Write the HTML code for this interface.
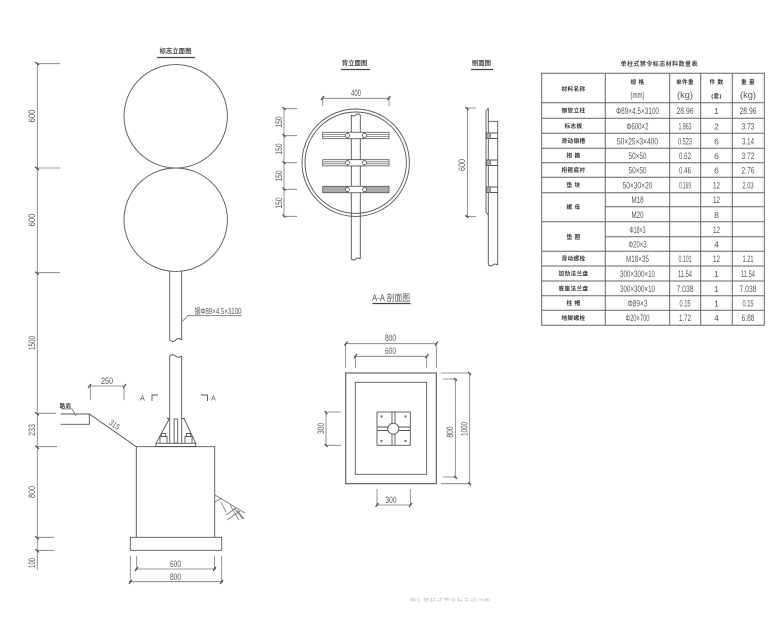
<!DOCTYPE html>
<html>
<head>
<meta charset="utf-8">
<style>
html,body{margin:0;padding:0;background:#fff;}
svg{display:block;}
.l{fill:none;stroke:#555;stroke-width:.9;}
.d{fill:none;stroke:#777;stroke-width:.8;}
.h{fill:none;stroke:#444;stroke-width:1.1;}
text{font-family:"Liberation Sans","Noto Sans CJK SC",sans-serif;fill:#555;text-anchor:middle;}
.n{font-size:9.500px;}
.s{font-size:8.500px;}
.z{font-size:5.600px;font-weight:bold;fill:#333;letter-spacing:.4px;}
.ti{font-size:6.400px;font-weight:bold;fill:#444;}
.u{fill:none;stroke:#444;stroke-width:1.300;}
</style>
</head>
<body>
<svg width="780" height="624" viewBox="0 0 780 624" xmlns="http://www.w3.org/2000/svg">
<rect width="780" height="624" fill="#fff"/>

<!-- 标志立面图 -->
<text class="ti" x="175.500" y="53">标志立面图</text>
<path class="u" d="M157 57.500H195"/>
<circle class="l" cx="175.700" cy="116.300" r="51.700"/>
<circle class="l" cx="175.700" cy="219.700" r="51.700"/>
<path class="l" d="M169.700 271.500V340M181.700 271.500V340M169.700 340q3 3 6 0t6 0"/>
<path class="l" d="M169.700 356q3 -2.500 6 0t6 0M169.700 356V443.300M181.700 356V443.300"/>
<path class="d" d="M181.700 322L188 315.700H242"/>
<text x="218" y="314" style="font-size:8px" textLength="47" lengthAdjust="spacingAndGlyphs">钢Φ89×4.5×3100</text>

<!-- left dims -->
<path class="d" d="M37.300 63V570M37 63.700H60M37 168H60M37 272.700H60M36 413.300H56M36 446.700H57M36 537.300H54M36 550.300H54"/>
<path class="h" d="M35 62l4 3M35 167l4 3M35 271.700l4 3M35 412.300l4 3M35 445.700l4 3M35 536.300l4 3M35 549.300l4 3"/>
<text class="n" transform="translate(35,116) rotate(-90)" textLength="13" lengthAdjust="spacingAndGlyphs">600</text>
<text class="n" transform="translate(35,220) rotate(-90)" textLength="13" lengthAdjust="spacingAndGlyphs">600</text>
<text class="n" transform="translate(35,343) rotate(-90)" textLength="14" lengthAdjust="spacingAndGlyphs">1500</text>
<text class="n" transform="translate(35,430) rotate(-90)" textLength="12" lengthAdjust="spacingAndGlyphs">233</text>
<text class="n" transform="translate(35,492) rotate(-90)" textLength="12" lengthAdjust="spacingAndGlyphs">800</text>
<text class="n" transform="translate(35,563) rotate(-90)" textLength="10" lengthAdjust="spacingAndGlyphs">100</text>

<!-- road + slope -->
<path class="l" d="M60.700 414H89.300L136.300 446.700M60.700 424.300H89.300V414"/>
<text class="z" x="65.500" y="408" style="font-size:5.500px">路肩</text>
<path class="d" d="M61 409H72L76 416"/>
<text transform="translate(113,427) rotate(35)" textLength="11" lengthAdjust="spacingAndGlyphs" style="font-size:8px">315</text>
<path class="d" d="M89.300 386H124.700M90.300 386V400.300M124 386V400.300"/>
<path class="h" d="M88 388l3 -4M123 388l3 -4"/>
<text class="n" x="107" y="384" textLength="12" lengthAdjust="spacingAndGlyphs">250</text>

<!-- section marks -->
<text x="142.500" y="400.500" style="font-size:7px">A</text>
<text x="213.500" y="400.500" style="font-size:7px">A</text>
<path class="l" d="M152 401V395H158M207.500 401V395H201"/>

<!-- base -->
<path class="l" d="M136.300 446.700H214.700V537.300M136.300 446.700V537.300"/>
<rect class="l" x="130.300" y="537.300" width="91.400" height="13"/>
<path class="h" d="M156 446.500H195.700"/>
<rect class="l" x="156" y="443.300" width="39.700" height="3.200"/>
<path class="l" d="M156 443.300L169.500 418.500M181.700 418.500H184L195.700 443.300M167 418.500H169.700"/>
<rect class="l" x="174.100" y="419" width="3.600" height="24"/>
<path class="l" d="M160 443V436.500H167V443M161.500 436.500V433.500H165.500V436.500M185 443V436.500H192V443M186.500 436.500V433.500H190.500V436.500"/>
<!-- soil hatch -->
<path class="d" d="M215 495L245 513M215 502L222 498M221 502L226 512M226 515L236 508M230 505L239 520M227 520L240 511M237 510L244 519M234 508L243 519"/>
<!-- base dims -->
<path class="d" d="M136.700 556V570M214.500 556V570M130.300 556V583M221.700 556V583M135 569H216M129 581.700H223"/>
<path class="h" d="M135 571l3 -4M213 571l3 -4M129 584l3 -4M220 584l3 -4"/>
<text class="n" x="175.500" y="567" textLength="11" lengthAdjust="spacingAndGlyphs">600</text>
<text class="n" x="175.500" y="580" textLength="11" lengthAdjust="spacingAndGlyphs">800</text>

<!-- 背立面图 -->
<text class="ti" x="354.500" y="65">背立面图</text>
<path class="u" d="M341 69.500H370"/>
<text class="ti" x="481.500" y="65">侧面图</text>
<path class="u" d="M471 69.500H493"/>

<circle class="l" cx="355.700" cy="162.700" r="53.700"/>
<circle class="l" cx="355.700" cy="162.700" r="50.700"/>
<path class="l" d="M351.300 115V259M360.300 115V259M351.300 115q2 2 4.500 0t4.500 0M351.300 259q2 2 4.500 0t4.500 0"/>
<g fill="#fff" stroke="#555" stroke-width=".8">
<rect x="322.700" y="132.300" width="66.300" height="6.400"/>
<rect x="322.700" y="159.700" width="66.300" height="6.200"/>
<rect x="322.700" y="186.300" width="66.300" height="6.400" fill="#aaa"/>
</g>
<path class="d" d="M322.700 134.500H346M365.500 134.500H389M322.700 136.500H346M365.500 136.500H389M322.700 161.800H346M365.500 161.800H389M322.700 163.800H346M365.500 163.800H389"/>
<g fill="#fff" stroke="#555" stroke-width=".8">
<rect x="347.500" y="132.300" width="16.500" height="6.400"/>
<rect x="347.500" y="159.700" width="16.500" height="6.200"/>
<rect x="347.500" y="186.300" width="16.500" height="6.400"/>
<circle cx="347.500" cy="135.500" r="2"/><circle cx="364.500" cy="135.500" r="2"/>
<circle cx="347.500" cy="162.700" r="2"/><circle cx="364.500" cy="162.700" r="2"/>
<circle cx="347.500" cy="189.500" r="2"/><circle cx="364.500" cy="189.500" r="2"/>
</g>
<path class="d" d="M322.700 98.300H389M322.700 97V106M389 97V106M284 108.700V216.300M283 108.700H297M283 135.700H297M283 162.700H297M283 189.300H297M283 216.300H297"/>
<path class="h" d="M321 100l3 -4M387.500 100l3 -4M282.500 107l3 3M282.500 134l3 3M282.500 161l3 3M282.500 187.500l3 3M282.500 214.500l3 3"/>
<text class="n" x="356" y="96" textLength="10" lengthAdjust="spacingAndGlyphs">400</text>
<text class="n" transform="translate(282,122) rotate(-90)" textLength="11" lengthAdjust="spacingAndGlyphs">150</text>
<text class="n" transform="translate(282,149) rotate(-90)" textLength="11" lengthAdjust="spacingAndGlyphs">150</text>
<text class="n" transform="translate(282,176) rotate(-90)" textLength="11" lengthAdjust="spacingAndGlyphs">150</text>
<text class="n" transform="translate(282,203) rotate(-90)" textLength="11" lengthAdjust="spacingAndGlyphs">150</text>

<!-- side view -->
<path class="d" d="M467.300 108V217M465 108H476M465 216.500H476"/>
<path class="h" d="M465.500 107l3 3M465.500 215l3 3"/>
<text class="n" transform="translate(465,165) rotate(-90)" textLength="12" lengthAdjust="spacingAndGlyphs">600</text>
<path class="l" d="M488.300 108L486 111V212L488.300 215M488.300 108V265M497.700 121.300V265M488.300 121.300H497.700M488.300 265q2.500 2 4.700 0t4.700 0"/>
<path class="l" d="M486 133H497.700M486 138.500H497.700M486 160H497.700M486 165.500H497.700M486 187H497.700M486 192.500H497.700"/>
<rect x="486.500" y="133" width="4" height="5.500" fill="#aaa" stroke="#555" stroke-width=".6"/>
<rect x="486.500" y="160" width="4" height="5.500" fill="#aaa" stroke="#555" stroke-width=".6"/>
<rect x="486.500" y="187" width="4" height="5.500" fill="#aaa" stroke="#555" stroke-width=".6"/>

<!-- A-A -->
<text x="391" y="301" style="font-size:9px" textLength="38" lengthAdjust="spacingAndGlyphs">A-A 剖面图</text>
<path class="u" d="M372.500 303.500H410.500"/>
<rect class="l" x="345.700" y="373" width="90.600" height="110.700" style="stroke-width:1.100"/>
<rect class="l" x="355.300" y="382.300" width="71.400" height="92"/>
<rect class="l" x="377" y="412" width="33.300" height="33.300"/>
<path class="l" d="M377 427H388M377 430.500H388M399 427H410.300M399 430.500H410.300M392 412V423M395 412V423M392 434V445.300M395 434V445.300"/>
<circle class="l" cx="393.300" cy="428.700" r="5.500" fill="#fff"/>
<g fill="#777"><circle cx="381.500" cy="416.500" r="1.200"/><circle cx="405.500" cy="416.500" r="1.200"/><circle cx="381.500" cy="441" r="1.200"/><circle cx="405.500" cy="441" r="1.200"/></g>
<path class="d" d="M345.500 343.700H436.500M355 356.300H427M345.700 344V368M436.300 344V368M355.300 356V368M426.700 356V368M469.700 373V483.700M441 373H471M441 483.700H471M455.300 379V477M443 379H457M443 477H457M326 412V445.300M325 412H341M325 445.300H341M377 489V506M410.300 489V506M376 505H411"/>
<path class="h" d="M344.500 345.500l3 -4M435 345.500l3 -4M354 358l3 -4M425.500 358l3 -4M468 372l3 3M468 482.500l3 3M454 378l3 3M454 476l3 3M324.500 411l3 3M324.500 444l3 3M375.500 507l3 -4M409 507l3 -4"/>
<text class="n" x="390.500" y="341" textLength="11" lengthAdjust="spacingAndGlyphs">800</text>
<text class="n" x="390.500" y="354" textLength="11" lengthAdjust="spacingAndGlyphs">600</text>
<text class="n" x="391" y="503" textLength="11" lengthAdjust="spacingAndGlyphs">300</text>
<text class="n" transform="translate(324,428.500) rotate(-90)" textLength="11" lengthAdjust="spacingAndGlyphs">300</text>
<text class="n" transform="translate(453,432) rotate(-90)" textLength="11" lengthAdjust="spacingAndGlyphs">800</text>
<text class="n" transform="translate(467.500,429) rotate(-90)" textLength="14" lengthAdjust="spacingAndGlyphs">1000</text>

<!-- table -->
<text class="ti" x="659" y="66" textLength="77" lengthAdjust="spacing" style="font-size:6px">单柱式禁令标志材料数量表</text>
<path fill="none" stroke="#666" stroke-width="1" d="M541.700 73.300H764.300V325.300H541.700ZM605.300 73.300V325.300M669.700 73.300V325.300M700.700 73.300V325.300M732.300 73.300V325.300M541.700 102.700H764.300M541.700 118.300H764.300M541.700 133.300H764.300M541.700 148.300H764.300M541.700 162.700H764.300M541.700 177.300H764.300M541.700 192.700H764.300M605.300 206.700H764.300M541.700 221.700H764.300M605.300 236.700H764.300M541.700 251.300H764.300M541.700 266H764.300M541.700 281H764.300M541.700 295.700H764.300M541.700 310.300H764.300"/>

<g>
<text class="z" x="573.500" y="91">材料名称</text>
<text class="z" x="637.500" y="84">规 格</text>
<text class="z" x="685" y="84">单件重</text>
<text class="z" x="716.500" y="84">件 数</text>
<text class="z" x="748" y="84">重 量</text>
<text class="z" x="573.500" y="112.500">钢管立柱</text>
<text class="z" x="573.500" y="127.800">标志板</text>
<text class="z" x="573.500" y="142.800">滑动钢槽</text>
<text class="z" x="573.500" y="157.500">抱 箍</text>
<text class="z" x="573.500" y="172">抱箍底衬</text>
<text class="z" x="573.500" y="187">垫 块</text>
<text class="z" x="573.500" y="209">螺 母</text>
<text class="z" x="573.500" y="239">垫 圈</text>
<text class="z" x="573.500" y="260.500">滑动螺栓</text>
<text class="z" x="573.500" y="275.500">加劲法兰盘</text>
<text class="z" x="573.500" y="290.500">底座法兰盘</text>
<text class="z" x="573.500" y="305">柱 帽</text>
<text class="z" x="573.500" y="320">地脚螺栓</text>
</g>
<g>
<text class="n" x="637.500" y="98" textLength="14" lengthAdjust="spacingAndGlyphs">(mm)</text>
<text class="n" x="685" y="98" textLength="16" lengthAdjust="spacingAndGlyphs">(kg)</text>
<text class="z" x="716.500" y="98">(套)</text>
<text class="n" x="748" y="98" textLength="16" lengthAdjust="spacingAndGlyphs">(kg)</text>

<text class="n" x="637.500" y="114" textLength="43" lengthAdjust="spacingAndGlyphs">Φ89×4.5×3100</text><text class="n" x="685" y="114" textLength="17" lengthAdjust="spacingAndGlyphs">28.96</text><text class="s" x="716.500" y="114">1</text><text class="n" x="748" y="114" textLength="17" lengthAdjust="spacingAndGlyphs">28.96</text>
<text class="n" x="637.500" y="129.300" textLength="22" lengthAdjust="spacingAndGlyphs">Φ600×2</text><text class="n" x="685" y="129.300" textLength="13" lengthAdjust="spacingAndGlyphs">1.863</text><text class="s" x="716.500" y="129.300">2</text><text class="n" x="748" y="129.300" textLength="13" lengthAdjust="spacingAndGlyphs">3.73</text>
<text class="n" x="637.500" y="144.300" textLength="41" lengthAdjust="spacingAndGlyphs">50×25×3×400</text><text class="n" x="685" y="144.300" textLength="14" lengthAdjust="spacingAndGlyphs">0.523</text><text class="s" x="716.500" y="144.300">6</text><text class="n" x="748" y="144.300" textLength="12" lengthAdjust="spacingAndGlyphs">3.14</text>
<text class="n" x="637.500" y="159" textLength="18" lengthAdjust="spacingAndGlyphs">50×50</text><text class="n" x="685" y="159" textLength="12" lengthAdjust="spacingAndGlyphs">0.62</text><text class="s" x="716.500" y="159">6</text><text class="n" x="748" y="159" textLength="13" lengthAdjust="spacingAndGlyphs">3.72</text>
<text class="n" x="637.500" y="173.500" textLength="18" lengthAdjust="spacingAndGlyphs">50×50</text><text class="n" x="685" y="173.500" textLength="12" lengthAdjust="spacingAndGlyphs">0.46</text><text class="s" x="716.500" y="173.500">6</text><text class="n" x="748" y="173.500" textLength="13" lengthAdjust="spacingAndGlyphs">2.76</text>
<text class="n" x="637.500" y="188.500" textLength="30" lengthAdjust="spacingAndGlyphs">50×30×20</text><text class="n" x="685" y="188.500" textLength="12" lengthAdjust="spacingAndGlyphs">0.169</text><text class="n" x="716.500" y="188.500" textLength="7" lengthAdjust="spacingAndGlyphs">12</text><text class="n" x="748" y="188.500" textLength="11" lengthAdjust="spacingAndGlyphs">2.03</text>

<text class="n" x="637.500" y="203" textLength="12" lengthAdjust="spacingAndGlyphs">M18</text><text class="n" x="716.500" y="203" textLength="7" lengthAdjust="spacingAndGlyphs">12</text>
<text class="n" x="637.500" y="218" textLength="12" lengthAdjust="spacingAndGlyphs">M20</text><text class="s" x="716.500" y="218">8</text>
<text class="n" x="637.500" y="233" textLength="16" lengthAdjust="spacingAndGlyphs">Φ18×3</text><text class="n" x="716.500" y="233" textLength="7" lengthAdjust="spacingAndGlyphs">12</text>
<text class="n" x="637.500" y="247.500" textLength="18" lengthAdjust="spacingAndGlyphs">Φ20×3</text><text class="s" x="716.500" y="247.500">4</text>
<text class="n" x="637.500" y="262" textLength="23" lengthAdjust="spacingAndGlyphs">M18×35</text><text class="n" x="685" y="262" textLength="13" lengthAdjust="spacingAndGlyphs">0.101</text><text class="n" x="716.500" y="262" textLength="7" lengthAdjust="spacingAndGlyphs">12</text><text class="n" x="748" y="262" textLength="11" lengthAdjust="spacingAndGlyphs">1.21</text>
<text class="n" x="637.500" y="277" textLength="35" lengthAdjust="spacingAndGlyphs">300×300×10</text><text class="n" x="685" y="277" textLength="14" lengthAdjust="spacingAndGlyphs">11.54</text><text class="s" x="716.500" y="277">1</text><text class="n" x="748" y="277" textLength="14" lengthAdjust="spacingAndGlyphs">11.54</text>
<text class="n" x="637.500" y="292" textLength="35" lengthAdjust="spacingAndGlyphs">300×300×10</text><text class="n" x="685" y="292" textLength="17" lengthAdjust="spacingAndGlyphs">7.038</text><text class="s" x="716.500" y="292">1</text><text class="n" x="748" y="292" textLength="17" lengthAdjust="spacingAndGlyphs">7.038</text>
<text class="n" x="637.500" y="306.500" textLength="20" lengthAdjust="spacingAndGlyphs">Φ89×3</text><text class="n" x="685" y="306.500" textLength="11" lengthAdjust="spacingAndGlyphs">0.15</text><text class="s" x="716.500" y="306.500">1</text><text class="n" x="748" y="306.500" textLength="11" lengthAdjust="spacingAndGlyphs">0.15</text>
<text class="n" x="637.500" y="321" textLength="24" lengthAdjust="spacingAndGlyphs">Φ20×700</text><text class="n" x="685" y="321" textLength="12" lengthAdjust="spacingAndGlyphs">1.72</text><text class="s" x="716.500" y="321">4</text><text class="n" x="748" y="321" textLength="13" lengthAdjust="spacingAndGlyphs">6.88</text>
</g>

<!-- cropped caption -->
<text x="450" y="603" textLength="80" lengthAdjust="spacing" style="font-size:6px;fill:#bbb">图9 单柱式禁令标志设计图</text>
<rect x="400" y="601.500" width="100" height="6" fill="#fff"/>
</svg>
</body>
</html>
